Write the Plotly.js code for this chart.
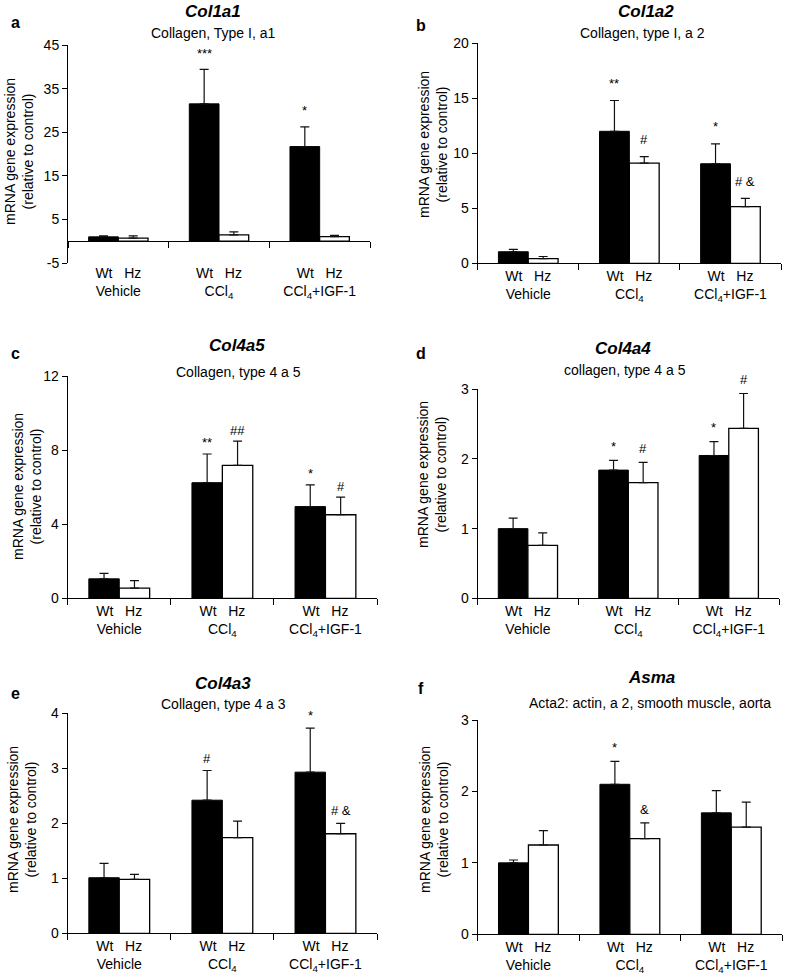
<!DOCTYPE html>
<html>
<head>
<meta charset="utf-8">
<script src="https://cdn.plot.ly/plotly-3.0.1.min.js"></script>
<style>
  html, body { margin: 0; padding: 0; background: #fff; }
  #chart { width: 785px; height: 979px; }
</style>
</head>
<body>
<div id="chart"></div>
<script>
// ---------- data ----------
const groupLabels = ["Vehicle", "CCl<sub>4</sub>", "CCl<sub>4</sub>+IGF-1"];
const genotypes = ["Wt", "Hz"];
const yTitle = "mRNA gene expression<br>(relative to control)";

// a  Col1a1
const col1a1Wt = [1.0, 31.5, 21.7];
const col1a1WtErr = [0.2, 7.9, 4.5];
const col1a1Hz = [0.7, 1.45, 1.07];
const col1a1HzErr = [0.5, 0.7, 0.25];
const col1a1WtSig = ["", "***", "*"];
const col1a1HzSig = ["", "", ""];
const col1a1TickVals = [-5, 5, 15, 25, 35, 45];
const col1a1TickText = ["-5", "5", "15", "25", "35", "45"];

// b  Col1a2
const col1a2Wt = [1.05, 12.0, 9.05];
const col1a2WtErr = [0.22, 2.8, 1.8];
const col1a2Hz = [0.42, 9.1, 5.15];
const col1a2HzErr = [0.2, 0.6, 0.75];
const col1a2WtSig = ["", "**", "*"];
const col1a2HzSig = ["", "#", "# &"];

// c  Col4a5
const col4a5Wt = [1.05, 6.24, 4.95];
const col4a5WtErr = [0.3, 1.55, 1.17];
const col4a5Hz = [0.55, 7.18, 4.51];
const col4a5HzErr = [0.4, 1.3, 0.95];
const col4a5WtSig = ["", "**", "*"];
const col4a5HzSig = ["", "##", "#"];

// d  Col4a4
const col4a4Wt = [1.0, 1.84, 2.05];
const col4a4WtErr = [0.15, 0.14, 0.2];
const col4a4Hz = [0.76, 1.66, 2.44];
const col4a4HzErr = [0.18, 0.29, 0.5];
const col4a4WtSig = ["", "*", "*"];
const col4a4HzSig = ["", "#", "#"];

// e  Col4a3
const col4a3Wt = [1.01, 2.42, 2.93];
const col4a3WtErr = [0.26, 0.54, 0.8];
const col4a3Hz = [0.98, 1.74, 1.81];
const col4a3HzErr = [0.09, 0.3, 0.19];
const col4a3WtSig = ["", "#", "*"];
const col4a3HzSig = ["", "", "# &"];

// f  Asma
const asmaWt = [1.0, 2.1, 1.7];
const asmaWtErr = [0.04, 0.32, 0.31];
const asmaHz = [1.25, 1.34, 1.5];
const asmaHzErr = [0.2, 0.22, 0.35];
const asmaWtSig = ["", "*", ""];
const asmaHzSig = ["", "&", ""];

// ---------- layout / style ----------
const W = 785, H = 979;
const BARGAP = 0.41;
const FONT = "Liberation Sans, Arial, Helvetica, sans-serif";

const panels = [
  { letter: "a", gene: "Col1a1", sub: "Collagen, Type I, a1",
    wt: col1a1Wt, wtErr: col1a1WtErr, hz: col1a1Hz, hzErr: col1a1HzErr, wtSig: col1a1WtSig, hzSig: col1a1HzSig,
    range: [-5, 45], tickVals: col1a1TickVals, tickText: col1a1TickText, box: [68, 45, 370, 263],
    letterPos: [15, 23], genePos: [213, 12], subPos: [213, 33], titlePos: [19, 152], gap: 16 },
  { letter: "b", gene: "Col1a2", sub: "Collagen, type I, a 2",
    wt: col1a2Wt, wtErr: col1a2WtErr, hz: col1a2Hz, hzErr: col1a2HzErr, wtSig: col1a2WtSig, hzSig: col1a2HzSig,
    range: [0, 20], tick0: 0, dtick: 5, box: [477.7, 43.3, 781, 263.3],
    letterPos: [421, 25], genePos: [646, 12], subPos: [642, 33], titlePos: [433, 145], gap: 17 },
  { letter: "c", gene: "Col4a5", sub: "Collagen, type 4 a 5",
    wt: col4a5Wt, wtErr: col4a5WtErr, hz: col4a5Hz, hzErr: col4a5HzErr, wtSig: col4a5WtSig, hzSig: col4a5HzSig,
    range: [0, 12], tick0: 0, dtick: 4, box: [67.7, 376, 377, 598.3],
    letterPos: [15, 353], genePos: [237, 345], subPos: [238, 372], titlePos: [27, 487], gap: 11 },
  { letter: "d", gene: "Col4a4", sub: "collagen, type 4 a 5",
    wt: col4a4Wt, wtErr: col4a4WtErr, hz: col4a4Hz, hzErr: col4a4HzErr, wtSig: col4a4WtSig, hzSig: col4a4HzSig,
    range: [0, 3], tick0: 0, dtick: 1, box: [477.7, 389.3, 779, 598.3],
    letterPos: [421, 353], genePos: [623, 348], subPos: [625, 370], titlePos: [432, 475], gap: 14 },
  { letter: "e", gene: "Col4a3", sub: "Collagen, type 4 a 3",
    wt: col4a3Wt, wtErr: col4a3WtErr, hz: col4a3Hz, hzErr: col4a3HzErr, wtSig: col4a3WtSig, hzSig: col4a3HzSig,
    range: [0, 4], tick0: 0, dtick: 1, box: [67.7, 713.3, 377, 933.3],
    letterPos: [15, 693], genePos: [223, 683], subPos: [223, 704], titlePos: [22, 820], gap: 12.5 },
  { letter: "f", gene: "Asma", sub: "Acta2: actin, a 2, smooth muscle, aorta",
    wt: asmaWt, wtErr: asmaWtErr, hz: asmaHz, hzErr: asmaHzErr, wtSig: asmaWtSig, hzSig: asmaHzSig,
    range: [0, 3], tick0: 0, dtick: 1, box: [477.7, 720, 782, 934.3],
    letterPos: [421, 688], genePos: [651, 677], subPos: [650, 703], titlePos: [434, 820], gap: 13.5 }
];

const tickText = groupLabels.map(g => genotypes.join("\u00a0\u00a0\u00a0") + "<br>" + g);
const boundaries = groupLabels.map((g, k) => k + 0.5).concat([-0.5]);
const zeros = groupLabels.map(() => 0);
const off = (1 - BARGAP) / 4;
const catRange = [-0.5, groupLabels.length - 0.5];

const data = [];
const annotations = [];
const layout = {
  width: W, height: H,
  margin: { l: 0, r: 0, t: 0, b: 0, pad: 0 },
  paper_bgcolor: "#fff", plot_bgcolor: "#fff",
  barmode: "group", bargap: BARGAP, bargroupgap: 0,
  showlegend: false,
  font: { family: FONT, color: "#000", size: 14 },
  annotations: annotations
};

const yTickStyle = { ticks: "outside", ticklen: 5, tickwidth: 1, tickcolor: "#000" };
const xTickStyle = { ticks: "outside", ticklen: 6, tickwidth: 1, tickcolor: "#000" };
const lineStyle = { showline: true, linecolor: "#000", linewidth: 1, showgrid: false, zeroline: false };
const tickFont = { family: FONT, size: 14, color: "#000" };

panels.forEach((p, i) => {
  const s = i === 0 ? "" : String(i + 1);
  const xa = "x" + s, ya = "y" + s;
  const errStyle = { type: "data", symmetric: false, arrayminus: zeros, color: "#111", thickness: 1.2, width: 4.5 };

  data.push({
    type: "bar", x: groupLabels, y: p.wt, name: genotypes[0], xaxis: xa, yaxis: ya,
    marker: { color: "#000", line: { color: "#000", width: 1 } },
    error_y: Object.assign({ array: p.wtErr }, errStyle), hoverinfo: "y"
  });
  data.push({
    type: "bar", x: groupLabels, y: p.hz, name: genotypes[1], xaxis: xa, yaxis: ya,
    marker: { color: "#fff", line: { color: "#000", width: 1.3 } },
    error_y: Object.assign({ array: p.hzErr }, errStyle), hoverinfo: "y"
  });

  const [x0, y0, x1, y1] = p.box;
  const xaxis = Object.assign({
    domain: [x0 / W, x1 / W], anchor: ya, type: "category", range: catRange,
    tickmode: "array", tickvals: groupLabels, ticktext: tickText, tickson: "boundaries",
    tickfont: tickFont, fixedrange: true
  }, xTickStyle, lineStyle);

  const yaxis = Object.assign({
    domain: [1 - y1 / H, 1 - y0 / H], anchor: xa, range: p.range,
    tickfont: tickFont, fixedrange: true
  }, yTickStyle, lineStyle);

  if (p.range[0] < 0) {
    // category axis line crosses the value axis at zero
    const zeroPx = y0 + (p.range[1] / (p.range[1] - p.range[0])) * (y1 - y0);
    xaxis.showline = false;
    xaxis.tickcolor = "rgba(0,0,0,0)";
    yaxis.zeroline = true; yaxis.zerolinecolor = "#000"; yaxis.zerolinewidth = 1;
    layout["xaxis7"] = Object.assign({
      overlaying: xa, anchor: "free", position: 1 - zeroPx / H, type: "linear", range: catRange,
      tickmode: "array", tickvals: boundaries, showticklabels: false, fixedrange: true
    }, xTickStyle, lineStyle);
    // empty trace so that the crossing axis is drawn
    data.push({ type: "scatter", x: [], y: [], xaxis: "x7", yaxis: ya, hoverinfo: "skip", showlegend: false });
  }
  layout["xaxis" + s] = xaxis;

  if (p.tickVals) {
    yaxis.tickmode = "array"; yaxis.tickvals = p.tickVals; yaxis.ticktext = p.tickText;
  } else {
    yaxis.tickmode = "linear"; yaxis.tick0 = p.tick0; yaxis.dtick = p.dtick;
  }
  layout["yaxis" + s] = yaxis;

  const paperAnn = (pos, text, size, extra) => Object.assign({
    xref: "paper", yref: "paper", x: pos[0] / W, y: 1 - pos[1] / H,
    xanchor: "center", yanchor: "middle", showarrow: false, text: text,
    font: { family: FONT, size: size, color: "#000" }
  }, extra || {});

  annotations.push(paperAnn(p.letterPos, "<b>" + p.letter + "</b>", 16));
  annotations.push(paperAnn(p.genePos, "<b><i>" + p.gene + "</i></b>", 17));
  annotations.push(paperAnn(p.subPos, p.sub, 14));
  annotations.push(paperAnn(p.titlePos, yTitle, 14, { textangle: -90 }));

  [[p.wt, p.wtErr, p.wtSig, -off], [p.hz, p.hzErr, p.hzSig, off]].forEach(([vals, errs, sigs, dx]) => {
    sigs.forEach((t, j) => {
      if (!t) return;
      annotations.push({
        xref: xa, yref: ya, x: j + dx, y: vals[j] + errs[j], yshift: p.gap,
        xanchor: "center", yanchor: "middle", showarrow: false, text: t,
        font: { family: FONT, size: 13, color: "#000" }
      });
    });
  });
});

Plotly.newPlot("chart", data, layout, { displayModeBar: false, staticPlot: true });
</script>
</body>
</html>
